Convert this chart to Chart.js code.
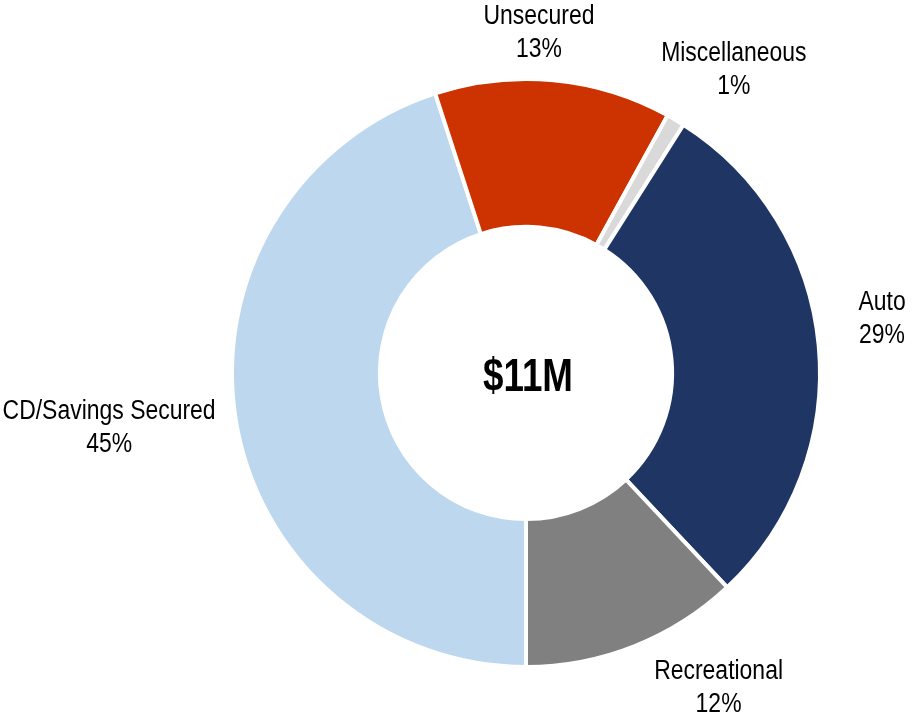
<!DOCTYPE html>
<html>
<head>
<meta charset="utf-8">
<script src="https://cdn.jsdelivr.net/npm/chart.js@4.4.1/dist/chart.umd.min.js"></script>
<style>
  html, body { margin: 0; padding: 0; background: #ffffff; }
  #wrap { width: 913px; height: 717px; position: relative; }
</style>
</head>
<body>
<div id="wrap"><canvas id="c" width="913" height="717"></canvas></div>
<script>
// ---- data ----
const categories = ["CD/Savings Secured", "Unsecured", "Miscellaneous", "Auto", "Recreational"];
const shares = [45, 13, 1, 29, 12];          // percent of portfolio
const centerLabel = "$11M";

// ---- styles ----
const sliceColors = ["#BDD7EE", "#CC3300", "#D9D9D9", "#1F3564", "#808080"];
// label block centre, as a fraction of the outer radius, relative to the ring centre
const labelPlacement = [[-1.418, 0.180], [0.044, -1.163], [0.707, -1.039], [1.211, -0.190], [0.655, 1.065]];

const labelPlugin = {
  id: 'sliceLabels',
  afterDraw(chart) {
    const ctx = chart.ctx;
    const meta = chart.getDatasetMeta(0);
    const arc0 = meta.data[0];
    const cx = arc0.x, cy = arc0.y, R = arc0.outerRadius;
    ctx.save();
    ctx.fillStyle = '#000000';
    ctx.textAlign = 'center';
    ctx.textBaseline = 'alphabetic';
    ctx.font = '27px "Liberation Sans", Arial, sans-serif';
    const sx = 0.85;
    meta.data.forEach((arc, i) => {
      const [fx, fy] = labelPlacement[i];
      const x = cx + fx * R, y = cy + fy * R;
      const lines = [categories[i], shares[i] + '%'];
      const b1 = y - 7, b2 = y + 26;
      [b1, b2].forEach((b, k) => {
        ctx.save();
        ctx.translate(x, b);
        ctx.scale(sx, 1);
        ctx.fillText(lines[k], 0, 0);
        ctx.restore();
      });
    });
    // centre total
    ctx.font = 'bold 46px "Liberation Sans", Arial, sans-serif';
    ctx.save();
    ctx.translate(cx + 2, cy + 18);
    ctx.scale(0.8, 1);
    ctx.fillText(centerLabel, 0, 0);
    ctx.restore();
    ctx.restore();
  }
};

new Chart(document.getElementById('c'), {
  type: 'doughnut',
  data: {
    labels: categories,
    datasets: [{
      data: shares,
      backgroundColor: sliceColors,
      borderColor: '#ffffff',
      borderWidth: 4,
      hoverOffset: 0
    }]
  },
  options: {
    responsive: false,
    animation: false,
    rotation: 180,
    cutout: '49.7%',
    layout: { padding: { left: 230, right: 91, top: 77, bottom: 48 } },
    plugins: {
      legend: { display: false },
      tooltip: { enabled: false }
    }
  },
  plugins: [labelPlugin]
});
</script>
</body>
</html>
